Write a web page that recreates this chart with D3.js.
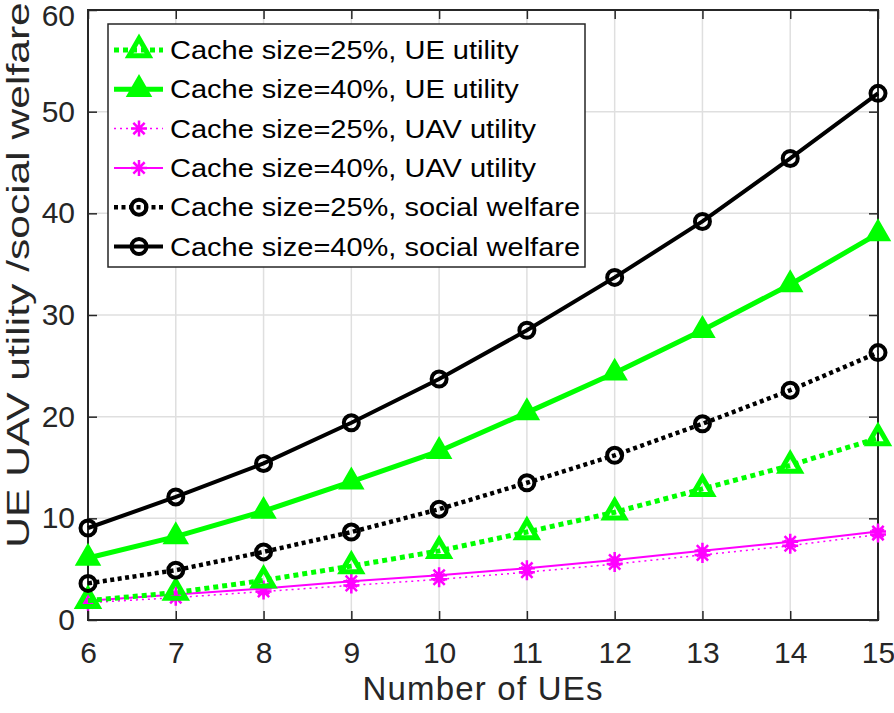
<!DOCTYPE html>
<html><head><meta charset="utf-8">
<script src="https://cdn.jsdelivr.net/npm/d3@7"></script>
<style>body{margin:0;background:#fff}svg{display:block;font-family:"Liberation Sans",Arial,sans-serif}</style>
</head><body><svg id="c" width="894" height="713"></svg>
<script>
const ues = [6,7,8,9,10,11,12,13,14,15];
const ue25 = [1.9,2.7,3.9,5.3,6.8,8.65,10.6,12.9,15.2,17.9];
const ue40 = [6.1,8.2,10.7,13.6,16.6,20.4,24.3,28.5,33.0,38.0];
const uav25 = [1.7,2.2,2.8,3.4,4.0,4.7,5.5,6.4,7.3,8.4];
const uav40 = [1.9,2.5,3.1,3.8,4.4,5.1,5.9,6.8,7.7,8.7];
const sw25 = [3.6,4.9,6.7,8.65,10.9,13.5,16.2,19.3,22.6,26.3];
const sw40 = [9.05,12.1,15.4,19.4,23.7,28.5,33.7,39.2,45.4,51.8];
const xTicks = [6,7,8,9,10,11,12,13,14,15];
const yTicks = [0,10,20,30,40,50,60];
const labels = ["Cache size=25%, UE utility","Cache size=40%, UE utility","Cache size=25%, UAV utility","Cache size=40%, UAV utility","Cache size=25%, social welfare","Cache size=40%, social welfare"];

const series = [
  {name:labels[0], v:ue25, color:"#00ff00", w:5, dash:"5,4", marker:"tri25"},
  {name:labels[1], v:ue40, color:"#00ff00", w:5, dash:null, marker:"tri40"},
  {name:labels[2], v:uav25, color:"#ff00ff", w:1.5, dash:"2,4", marker:"star"},
  {name:labels[3], v:uav40, color:"#ff00ff", w:2, dash:null, marker:"star"},
  {name:labels[4], v:sw25, color:"#000000", w:4.5, dash:"4,3.5", marker:"circ"},
  {name:labels[5], v:sw40, color:"#000000", w:4, dash:null, marker:"circ"}
];

const L=88, R=878, T=10, B=620;
const x = d3.scaleLinear().domain([6,15]).range([L,R]);
const y = d3.scaleLinear().domain([0,60]).range([B,T]);
const svg = d3.select("#c");

// grid
svg.append("g").selectAll("line").data(xTicks).join("line")
  .attr("x1",d=>x(d)).attr("x2",d=>x(d)).attr("y1",T).attr("y2",B)
  .attr("stroke","#dfdfdf").attr("stroke-width",1.5);
svg.append("g").selectAll("line").data(yTicks).join("line")
  .attr("y1",d=>y(d)).attr("y2",d=>y(d)).attr("x1",L).attr("x2",R)
  .attr("stroke","#dfdfdf").attr("stroke-width",1.5);

// axes
const ax = d3.axisBottom(x).tickValues(xTicks).tickSize(-9).tickPadding(22).tickFormat(d3.format("d"));
const gx = svg.append("g").attr("transform",`translate(0,${B})`).call(ax);
const ay = d3.axisLeft(y).tickValues(yTicks).tickSize(-9).tickPadding(13).tickFormat(d3.format("d"));
const gy = svg.append("g").attr("transform",`translate(${L},0)`).call(ay);
svg.append("g").attr("transform",`translate(${R},0)`).call(d3.axisRight(y).tickValues(yTicks).tickSize(-9).tickFormat(""));
svg.append("g").attr("transform",`translate(0,${T})`).call(d3.axisTop(x).tickValues(xTicks).tickSize(-9).tickFormat(""));
svg.selectAll(".domain").remove();
svg.selectAll(".tick line").attr("stroke","#262626").attr("stroke-width",1.5);
[gx,gy].forEach(g=>g.selectAll("text").attr("font-size",30).attr("fill","#262626").attr("font-family","Liberation Sans, Arial, sans-serif"));
gy.selectAll(".tick").filter(d=>d===60).select("text").attr("dy","0.5em");
svg.append("rect").attr("x",L).attr("y",T).attr("width",R-L).attr("height",B-T)
  .attr("fill","none").attr("stroke","#262626").attr("stroke-width",2);

// axis labels
svg.append("text").attr("x",(L+R)/2).attr("y",700).attr("text-anchor","middle")
  .attr("font-size",33).attr("letter-spacing",1.2).attr("fill","#262626").text("Number of UEs");
svg.append("text").attr("transform",`translate(29,275) rotate(-90) scale(1.33,1)`).attr("text-anchor","middle")
  .attr("font-size",32).attr("fill","#262626").text("UE UAV utility /social welfare");

function starPath(r){
  const a=r*Math.SQRT1_2;
  return `M${-r},0L${r},0M0,${-r}L0,${r}M${-a},${-a}L${a},${a}M${-a},${a}L${a},${-a}`;
}
function drawMarker(g, m, color, cx, cy){
  if(m==="tri40"){
    g.append("path").attr("d",d3.symbol(d3.symbolTriangle,230)()).attr("transform",`translate(${cx},${cy})`)
      .attr("fill",color).attr("stroke",color).attr("stroke-width",2);
  } else if(m==="tri25"){
    g.append("path").attr("d",d3.symbol(d3.symbolTriangle,170)()).attr("transform",`translate(${cx},${cy})`)
      .attr("fill","none").attr("stroke",color).attr("stroke-width",5);
  } else if(m==="star"){
    g.append("path").attr("d",starPath(8)).attr("transform",`translate(${cx},${cy})`)
      .attr("fill","none").attr("stroke",color).attr("stroke-width",2.5);
  } else if(m==="circ"){
    g.append("circle").attr("cx",cx).attr("cy",cy).attr("r",7.5).attr("fill","none").attr("stroke",color).attr("stroke-width",4);
  }
}

const line = d3.line().x((d,i)=>x(ues[i])).y(d=>y(d));
const order = [2,3,0,1,4,5];
order.forEach(k=>{
  const s = series[k];
  const g = svg.append("g");
  g.append("path").datum(s.v).attr("d",line).attr("fill","none").attr("stroke",s.color)
    .attr("stroke-width",s.w).attr("stroke-dasharray",s.dash);
  s.v.forEach((v,i)=>drawMarker(g,s.marker,s.color,x(ues[i]),y(v)));
});

// legend
const lg = svg.append("g");
lg.append("rect").attr("x",108).attr("y",24).attr("width",477).attr("height",243)
  .attr("fill","#fff").attr("stroke","#262626").attr("stroke-width",1.5);
series.forEach((s,i)=>{
  const cy = 50 + i*39.3;
  lg.append("line").attr("x1",114).attr("x2",163).attr("y1",cy).attr("y2",cy)
    .attr("stroke",s.color).attr("stroke-width",s.w).attr("stroke-dasharray",s.dash);
  drawMarker(lg,s.marker,s.color,139,cy);
  lg.append("text").attr("transform",`translate(170,${cy}) scale(1.16,1)`).attr("dy","0.36em").attr("font-size",25)
    .attr("fill","#000").text(s.name);
});
</script></body></html>
